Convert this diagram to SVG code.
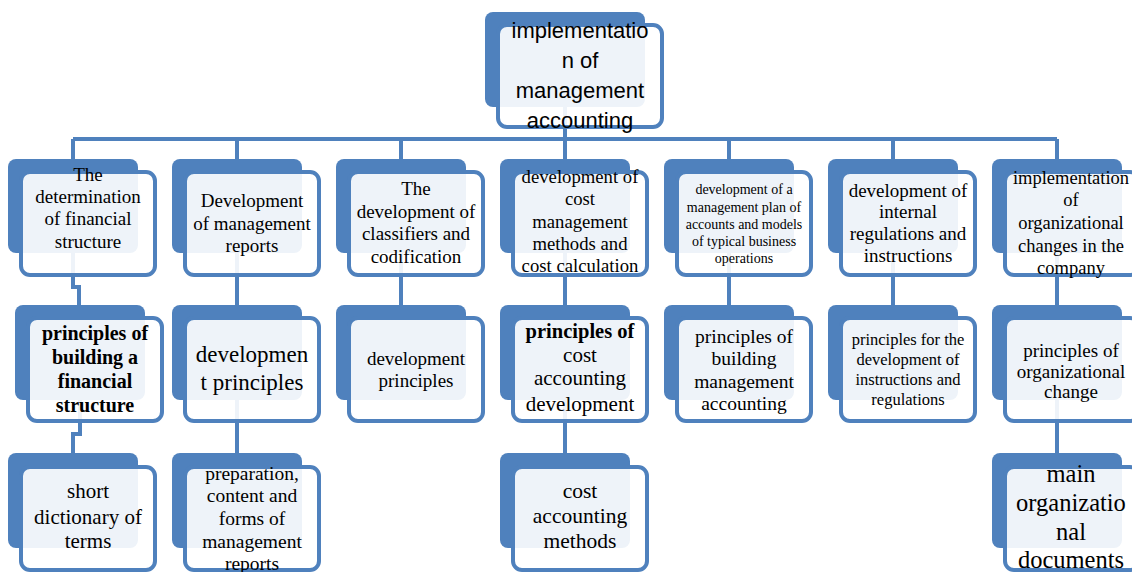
<svg xmlns="http://www.w3.org/2000/svg" width="1132" height="572" viewBox="0 0 1132 572">
<style>
.bk{fill:#4F81BD}
.fr{fill:#FFFFFF;fill-opacity:0.9;stroke:#4F81BD;stroke-width:4}
.cn{fill:none;stroke:#4F81BD;stroke-width:4}
.t{fill:#000000;text-anchor:middle}
</style>
<rect width="1132" height="572" fill="#FFFFFF"/>
<g id="connectors">
<path class="cn" d="M565,105 V139 M73,139 H1057 M73,139 V161 M237,139 V161 M401,139 V161 M565,139 V161 M729,139 V161 M893,139 V161 M1057,139 V161"/>
<path class="cn" d="M73,251 V287 H79 V307 M237,251 V307 M401,251 V307 M565,251 V307 M729,251 V307 M893,251 V307 M1057,251 V307"/>
<path class="cn" d="M80,398 V434 H73 V455 M237,398 V455 M565,398 V455 M1057,398 V455"/>
</g>
<g id="n0">
<rect class="bk" x="485" y="12" width="160" height="95" rx="8"/>
<rect class="fr" x="498" y="25" width="164" height="102" rx="9"/>
<text class="t" font-family="Liberation Sans, sans-serif" font-size="22" x="580"><tspan x="580" y="38">implementatio</tspan><tspan x="580" y="68">n of</tspan><tspan x="580" y="98">management</tspan><tspan x="580" y="128">accounting</tspan></text>
</g>
<g id="n1">
<rect class="bk" x="8" y="159" width="130" height="94" rx="8"/>
<rect class="fr" x="21" y="172" width="134" height="103" rx="9"/>
<text class="t" font-family="Liberation Serif, serif" font-size="19"><tspan x="88" y="181">The</tspan><tspan x="88" y="203">determination</tspan><tspan x="88" y="225">of financial</tspan><tspan x="88" y="248">structure</tspan></text>
</g>
<g id="n2">
<rect class="bk" x="172" y="159" width="130" height="94" rx="8"/>
<rect class="fr" x="185" y="172" width="134" height="103" rx="9"/>
<text class="t" font-family="Liberation Serif, serif" font-size="19"><tspan x="252" y="207">Development</tspan><tspan x="252" y="230">of management</tspan><tspan x="252" y="252">reports</tspan></text>
</g>
<g id="n3">
<rect class="bk" x="336" y="159" width="130" height="94" rx="8"/>
<rect class="fr" x="349" y="172" width="134" height="103" rx="9"/>
<text class="t" font-family="Liberation Serif, serif" font-size="19"><tspan x="416" y="195">The</tspan><tspan x="416" y="218">development of</tspan><tspan x="416" y="240">classifiers and</tspan><tspan x="416" y="263">codification</tspan></text>
</g>
<g id="n4">
<rect class="bk" x="500" y="159" width="130" height="94" rx="8"/>
<rect class="fr" x="513" y="172" width="134" height="103" rx="9"/>
<text class="t" font-family="Liberation Serif, serif" font-size="18.7"><tspan x="580" y="183">development of</tspan><tspan x="580" y="205">cost</tspan><tspan x="580" y="228">management</tspan><tspan x="580" y="250">methods and</tspan><tspan x="580" y="272">cost calculation</tspan></text>
</g>
<g id="n5">
<rect class="bk" x="664" y="159" width="130" height="94" rx="8"/>
<rect class="fr" x="677" y="172" width="134" height="103" rx="9"/>
<text class="t" font-family="Liberation Serif, serif" font-size="14"><tspan x="744" y="194">development of a</tspan><tspan x="744" y="212">management plan of</tspan><tspan x="744" y="229">accounts and models</tspan><tspan x="744" y="246">of typical business</tspan><tspan x="744" y="263">operations</tspan></text>
</g>
<g id="n6">
<rect class="bk" x="828" y="159" width="130" height="94" rx="8"/>
<rect class="fr" x="841" y="172" width="134" height="103" rx="9"/>
<text class="t" font-family="Liberation Serif, serif" font-size="19"><tspan x="908" y="197">development of</tspan><tspan x="908" y="218">internal</tspan><tspan x="908" y="240">regulations and</tspan><tspan x="908" y="262">instructions</tspan></text>
</g>
<g id="n7">
<rect class="bk" x="992" y="159" width="130" height="94" rx="8"/>
<rect class="fr" x="1005" y="172" width="134" height="103" rx="9"/>
<text class="t" font-family="Liberation Serif, serif" font-size="18.5"><tspan x="1071" y="184">implementation</tspan><tspan x="1071" y="206">of</tspan><tspan x="1071" y="229">organizational</tspan><tspan x="1071" y="252">changes in the</tspan><tspan x="1071" y="274">company</tspan></text>
</g>
<g id="n1a">
<rect class="bk" x="15" y="305" width="130" height="95" rx="8"/>
<rect class="fr" x="28" y="318" width="134" height="103" rx="9"/>
<text class="t" font-family="Liberation Serif, serif" font-weight="bold" font-size="20"><tspan x="95" y="340">principles of</tspan><tspan x="95" y="364">building a</tspan><tspan x="95" y="388">financial</tspan><tspan x="95" y="412">structure</tspan></text>
</g>
<g id="n2a">
<rect class="bk" x="172" y="305" width="130" height="95" rx="8"/>
<rect class="fr" x="185" y="318" width="134" height="103" rx="9"/>
<text class="t" font-family="Liberation Serif, serif" font-size="23"><tspan x="252" y="362">developmen</tspan><tspan x="252" y="390">t principles</tspan></text>
</g>
<g id="n3a">
<rect class="bk" x="336" y="305" width="130" height="95" rx="8"/>
<rect class="fr" x="349" y="318" width="134" height="103" rx="9"/>
<text class="t" font-family="Liberation Serif, serif" font-size="19"><tspan x="416" y="365">development</tspan><tspan x="416" y="387">principles</tspan></text>
</g>
<g id="n4a">
<rect class="bk" x="500" y="305" width="130" height="95" rx="8"/>
<rect class="fr" x="513" y="318" width="134" height="103" rx="9"/>
<text class="t" font-family="Liberation Serif, serif" font-size="21"><tspan font-weight="bold" font-size="20.5" x="580" y="338">principles of</tspan><tspan x="580" y="362">cost</tspan><tspan x="580" y="385">accounting</tspan><tspan x="580" y="411">development</tspan></text>
</g>
<g id="n5a">
<rect class="bk" x="664" y="305" width="130" height="95" rx="8"/>
<rect class="fr" x="677" y="318" width="134" height="103" rx="9"/>
<text class="t" font-family="Liberation Serif, serif" font-size="19.5"><tspan x="744" y="343">principles of</tspan><tspan x="744" y="365">building</tspan><tspan x="744" y="388">management</tspan><tspan x="744" y="410">accounting</tspan></text>
</g>
<g id="n6a">
<rect class="bk" x="828" y="305" width="130" height="95" rx="8"/>
<rect class="fr" x="841" y="318" width="134" height="103" rx="9"/>
<text class="t" font-family="Liberation Serif, serif" font-size="16.5"><tspan x="908" y="345">principles for the</tspan><tspan x="908" y="365">development of</tspan><tspan x="908" y="385">instructions and</tspan><tspan x="908" y="405">regulations</tspan></text>
</g>
<g id="n7a">
<rect class="bk" x="992" y="305" width="130" height="95" rx="8"/>
<rect class="fr" x="1005" y="318" width="134" height="103" rx="9"/>
<text class="t" font-family="Liberation Serif, serif" font-size="19"><tspan x="1071" y="357">principles of</tspan><tspan x="1071" y="378">organizational</tspan><tspan x="1071" y="398">change</tspan></text>
</g>
<g id="n1b">
<rect class="bk" x="8" y="453" width="130" height="95" rx="8"/>
<rect class="fr" x="21" y="467" width="134" height="103" rx="9"/>
<text class="t" font-family="Liberation Serif, serif" font-size="21"><tspan x="88" y="498">short</tspan><tspan x="88" y="524">dictionary of</tspan><tspan x="88" y="548">terms</tspan></text>
</g>
<g id="n2b">
<rect class="bk" x="172" y="453" width="130" height="95" rx="8"/>
<rect class="fr" x="185" y="467" width="134" height="103" rx="9"/>
<text class="t" font-family="Liberation Serif, serif" font-size="19.5"><tspan x="252" y="480">preparation,</tspan><tspan x="252" y="502">content and</tspan><tspan x="252" y="525">forms of</tspan><tspan x="252" y="548">management</tspan><tspan x="252" y="570">reports</tspan></text>
</g>
<g id="n4b">
<rect class="bk" x="500" y="453" width="130" height="95" rx="8"/>
<rect class="fr" x="513" y="467" width="134" height="103" rx="9"/>
<text class="t" font-family="Liberation Serif, serif" font-size="21.5"><tspan x="580" y="498">cost</tspan><tspan x="580" y="523">accounting</tspan><tspan x="580" y="548">methods</tspan></text>
</g>
<g id="n7b">
<rect class="bk" x="992" y="453" width="130" height="95" rx="8"/>
<rect class="fr" x="1005" y="467" width="134" height="103" rx="9"/>
<text class="t" font-family="Liberation Serif, serif" font-size="24.5"><tspan x="1071" y="482">main</tspan><tspan x="1071" y="511">organizatio</tspan><tspan x="1071" y="540">nal</tspan><tspan x="1071" y="568">documents</tspan></text>
</g>
</svg>
